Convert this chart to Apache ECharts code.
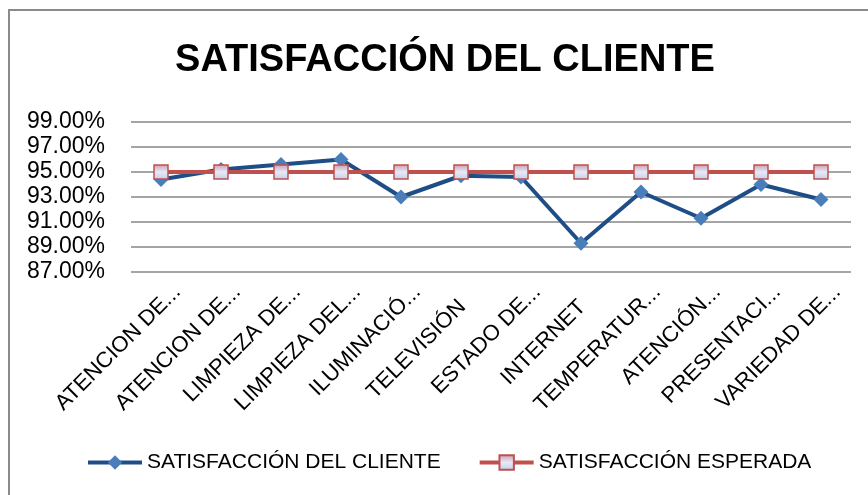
<!DOCTYPE html>
<html>
<head>
<meta charset="utf-8">
<script src="https://cdn.jsdelivr.net/npm/echarts@6/dist/echarts.min.js"></script>
<style>
  html, body { margin: 0; padding: 0; background: #fff; }
  #chart { width: 868px; height: 495px; }
</style>
</head>
<body>
<div id="chart"></div>
<script>
// Service areas evaluated in the survey
const categories = [
  'ATENCION DE...', 'ATENCION DE...', 'LIMPIEZA DE...', 'LIMPIEZA DEL...',
  'ILUMINACIÓ...', 'TELEVISIÓN', 'ESTADO DE...', 'INTERNET',
  'TEMPERATUR...', 'ATENCIÓN...', 'PRESENTACI...', 'VARIEDAD DE...'
];

// Measured customer satisfaction (%)
const satisfaccionCliente = [94.4, 95.2, 95.6, 96.0, 93.0, 94.7, 94.6, 89.3, 93.4, 91.3, 94.0, 92.8];

// Target satisfaction (%)
const satisfaccionEsperada = [95, 95, 95, 95, 95, 95, 95, 95, 95, 95, 95, 95];

// Value axis ticks
const yMin = 87, yMax = 99, yStep = 2;

const FONT = '"Liberation Sans", Arial, sans-serif';

// Shortened names sit in a wider label box, so they reach further up-right
const axisCategories = categories.map(name => ({
  value: name,
  textStyle: {
    padding: name.endsWith('...') ? [0, -23, 0, 0] : [0, -2, 16, 0]
  }
}));

const chart = echarts.init(document.getElementById('chart'), null, { renderer: 'canvas' });

chart.setOption({
  backgroundColor: '#ffffff',
  animation: false,
  graphic: [
    {
      type: 'rect',
      shape: { x: 9, y: 10, width: 900, height: 520 },
      style: { fill: 'none', stroke: '#8a8a8a', lineWidth: 2 },
      silent: true
    },
    {
      type: 'text',
      x: 445, y: 61,
      style: {
        text: 'SATISFACCIÓN DEL CLIENTE',
        font: 'bold 38px ' + FONT,
        fill: '#000',
        align: 'center',
        verticalAlign: 'middle'
      }
    }
  ],
  grid: { left: 131, right: 17, top: 122, bottom: 223, containLabel: false },
  legend: {
    left: 81,
    top: 447,
    itemWidth: 54,
    itemHeight: 18,
    itemGap: 37,
    lineStyle: { width: 4 },
    textStyle: { fontFamily: FONT, fontSize: 21, color: '#000' },
    data: ['SATISFACCIÓN DEL CLIENTE', 'SATISFACCIÓN ESPERADA']
  },
  xAxis: {
    type: 'category',
    data: axisCategories,
    boundaryGap: true,
    axisLine: { show: false },
    axisTick: { show: false },
    axisLabel: {
      rotate: 45,
      interval: 0,
      margin: 33,
      fontFamily: FONT,
      fontSize: 22,
      color: '#000'
    }
  },
  yAxis: {
    type: 'value',
    min: yMin,
    max: yMax,
    interval: yStep,
    axisLine: { show: false },
    axisTick: { show: false },
    splitLine: { lineStyle: { color: '#878787', width: 1.5 } },
    axisLabel: {
      margin: 26,
      fontFamily: FONT,
      fontSize: 23,
      color: '#000',
      formatter: v => v.toFixed(2) + '%'
    }
  },
  series: [
    {
      name: 'SATISFACCIÓN DEL CLIENTE',
      type: 'line',
      data: satisfaccionCliente,
      symbol: 'diamond',
      symbolSize: 15,
      lineStyle: { color: '#1F4E87', width: 4 },
      itemStyle: { color: '#4A7EBB' },
      z: 2
    },
    {
      name: 'SATISFACCIÓN ESPERADA',
      type: 'line',
      data: satisfaccionEsperada,
      symbol: 'rect',
      symbolSize: 14,
      lineStyle: { color: '#C0504D', width: 4 },
      itemStyle: {
        color: {
          type: 'linear', x: 0, y: 0, x2: 0, y2: 1,
          colorStops: [
            { offset: 0, color: '#c99bb4' },
            { offset: 0.5, color: '#e9e9f5' },
            { offset: 1, color: '#bcd0ee' }
          ]
        },
        borderColor: '#C0504D',
        borderWidth: 1.5
      },
      z: 3
    }
  ]
});
</script>
</body>
</html>
